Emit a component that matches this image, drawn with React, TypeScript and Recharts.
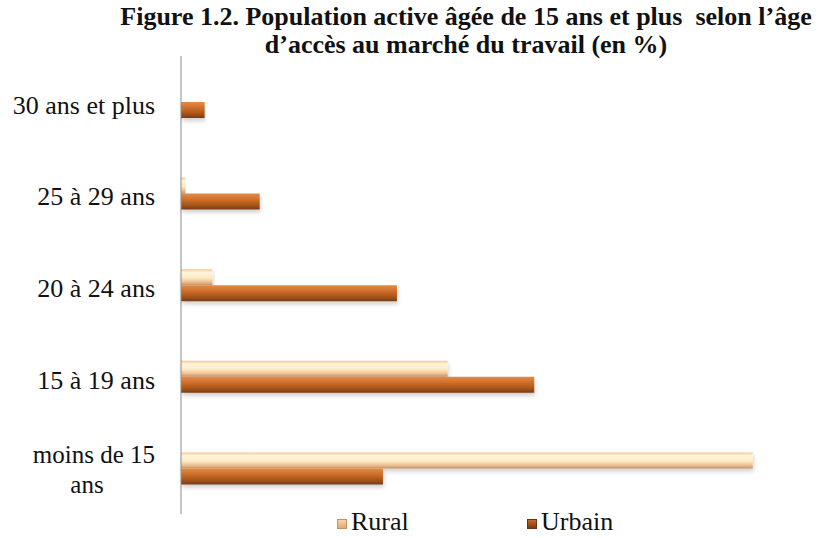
import React from 'react';
import { BarChart, Bar, XAxis, YAxis, Legend } from 'recharts';

const categories = ['30 ans et plus', '25 à 29 ans', '20 à 24 ans', '15 à 19 ans', 'moins de 15 ans'];
const rural = [0, 0.5, 3.6, 30.5, 65.4];
const urbain = [2.7, 9.0, 24.7, 40.4, 23.1];
const seriesNames = ['Rural', 'Urbain'];

const data = categories.map((c, i) => ({ cat: c, rural: rural[i], urbain: urbain[i] }));

const FONT = "'Liberation Serif', 'Times New Roman', serif";

const CategoryTick = (props: any) => {
  const { x, y, payload } = props;
  const label: string = payload.value;
  if (label === 'moins de 15 ans') {
    return (
      <g>
        <text x={x - 18} y={y - 5} textAnchor="end" fontSize={25} fill="#111" style={{ fontFamily: FONT }}>
          moins de 15
        </text>
        <text x={x - 86} y={y + 25} textAnchor="middle" fontSize={25} fill="#111" style={{ fontFamily: FONT }}>
          ans
        </text>
      </g>
    );
  }
  return (
    <text x={x - 18} y={y + 12} textAnchor="end" fontSize={26} fill="#111" style={{ fontFamily: FONT }}>
      {label}
    </text>
  );
};

const swatch = (bg: string, border: string): React.CSSProperties => ({
  position: 'absolute',
  width: 10,
  height: 10,
  background: bg,
  border: `1px solid ${border}`,
  boxSizing: 'border-box',
  top: 12,
});

const LegendContent = () => (
  <div style={{ position: 'relative', height: 30, fontFamily: FONT, fontSize: 26, color: '#111', lineHeight: '30px' }}>
    <span style={{ ...swatch('linear-gradient(#f8d4aa, #e2a872)', '#c99060'), left: 337 }} />
    <span style={{ position: 'absolute', left: 351, top: 0 }}>{seriesNames[0]}</span>
    <span style={{ ...swatch('linear-gradient(#c76a25, #7c3c10)', '#6b340e'), left: 527 }} />
    <span style={{ position: 'absolute', left: 541, top: 0 }}>{seriesNames[1]}</span>
  </div>
);

export default function App() {
  return (
    <div style={{ position: 'absolute', left: 0, top: 0, width: 837, height: 538, background: '#fff', overflow: 'hidden' }}>
      <div
        style={{
          position: 'absolute',
          left: 0,
          top: 3,
          width: 932,
          textAlign: 'center',
          fontFamily: FONT,
          fontWeight: 'bold',
          fontSize: 26,
          lineHeight: '28px',
          color: '#111',
          whiteSpace: 'pre',
        }}
      >
        {'Figure 1.2. Population active âgée de 15 ans et plus  selon l’âge\nd’accès au marché du travail (en %)'}
      </div>
      <BarChart
        width={837}
        height={538}
        data={data}
        layout="vertical"
        margin={{ top: 56, right: 44, bottom: 24, left: 0 }}
        barSize={16}
        barGap={0}
      >
        <defs>
          <linearGradient id="gRural" x1="0" y1="0" x2="0" y2="1">
            <stop offset="0%" stopColor="#f3c595" />
            <stop offset="20%" stopColor="#fff6da" />
            <stop offset="55%" stopColor="#fde9c4" />
            <stop offset="80%" stopColor="#eebf8f" />
            <stop offset="100%" stopColor="#c4946a" />
          </linearGradient>
          <linearGradient id="gUrbain" x1="0" y1="0" x2="0" y2="1">
            <stop offset="0%" stopColor="#e38c47" />
            <stop offset="25%" stopColor="#d67834" />
            <stop offset="55%" stopColor="#bd611f" />
            <stop offset="82%" stopColor="#984d18" />
            <stop offset="100%" stopColor="#773a10" />
          </linearGradient>
          <filter id="shadow" x="-5%" y="-20%" width="110%" height="160%">
            <feDropShadow dx="1" dy="3" stdDeviation="2" floodColor="#000" floodOpacity="0.18" />
          </filter>
        </defs>
        <XAxis type="number" domain={[0, 70]} hide />
        <YAxis
          type="category"
          dataKey="cat"
          width={181}
          axisLine={{ stroke: '#8c8c8c', strokeWidth: 1 }}
          tickLine={false}
          tick={<CategoryTick />}
          interval={0}
        />
        <Legend
          layout="horizontal"
          verticalAlign="middle"
          align="center"
          wrapperStyle={{ top: 507, left: 0, width: 837 }}
          content={<LegendContent />}
        />
        <Bar dataKey="rural" name={seriesNames[0]} fill="url(#gRural)" filter="url(#shadow)" isAnimationActive={false} />
        <Bar dataKey="urbain" name={seriesNames[1]} fill="url(#gUrbain)" filter="url(#shadow)" isAnimationActive={false} />
      </BarChart>
    </div>
  );
}
